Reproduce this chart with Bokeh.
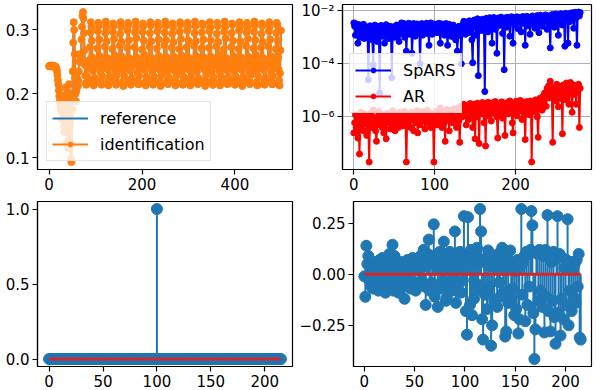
import math
from bokeh.plotting import figure
from bokeh.layouts import column, row
from bokeh.models import (Range1d, FixedTicker, CustomJSTickFormatter, Legend,
                          LegendItem, ColumnDataSource)
from bokeh.embed import file_html
from bokeh.resources import INLINE

# ---------------- data ----------------
# panel 1 (top-left): identification / reference, 500 samples
identification = [
    0.243, 0.243, 0.244, 0.243, 0.243, 0.244, 0.243, 0.243, 0.243, 0.244, 0.243, 0.243, 0.242, 0.243, 0.242, 0.241, 0.239, 0.235, 0.229, 0.221,
    0.214, 0.205, 0.196, 0.188, 0.181, 0.176, 0.190, 0.172, 0.160, 0.175, 0.195, 0.168, 0.150, 0.140, 0.165, 0.198, 0.210, 0.185, 0.150, 0.125,
    0.115, 0.140, 0.190, 0.215, 0.200, 0.155, 0.118, 0.098, 0.093, 0.120, 0.175, 0.235, 0.280, 0.312, 0.300, 0.262, 0.225, 0.200, 0.188, 0.205,
    0.225, 0.215, 0.212, 0.220, 0.235, 0.250, 0.262, 0.258, 0.250, 0.262, 0.285, 0.305, 0.322, 0.328, 0.318, 0.295, 0.268, 0.245, 0.228, 0.216,
    0.214, 0.217, 0.227, 0.241, 0.250, 0.247, 0.243, 0.253, 0.273, 0.296, 0.312, 0.305, 0.283, 0.257, 0.236, 0.221,
    0.213, 0.216, 0.225, 0.243, 0.251, 0.246, 0.244, 0.251, 0.271, 0.298, 0.311, 0.307, 0.285, 0.259, 0.235, 0.219,
    0.215, 0.214, 0.228, 0.240, 0.249, 0.248, 0.242, 0.254, 0.274, 0.295, 0.313, 0.304, 0.282, 0.256, 0.238, 0.220,
    0.213, 0.217, 0.226, 0.244, 0.252, 0.245, 0.243, 0.252, 0.270, 0.297, 0.310, 0.306, 0.286, 0.260, 0.234, 0.222,
    0.214, 0.215, 0.229, 0.242, 0.250, 0.247, 0.241, 0.253, 0.275, 0.294, 0.312, 0.305, 0.281, 0.258, 0.237, 0.219,
    0.212, 0.216, 0.227, 0.239, 0.253, 0.249, 0.244, 0.250, 0.272, 0.299, 0.311, 0.308, 0.284, 0.255, 0.236, 0.221,
    0.214, 0.218, 0.224, 0.243, 0.248, 0.246, 0.245, 0.254, 0.273, 0.296, 0.313, 0.304, 0.287, 0.257, 0.233, 0.220,
    0.215, 0.215, 0.228, 0.241, 0.251, 0.248, 0.242, 0.251, 0.269, 0.297, 0.310, 0.306, 0.283, 0.261, 0.237, 0.218,
    0.213, 0.217, 0.226, 0.245, 0.250, 0.244, 0.243, 0.255, 0.274, 0.295, 0.312, 0.307, 0.282, 0.256, 0.235, 0.222,
    0.214, 0.216, 0.227, 0.240, 0.252, 0.247, 0.246, 0.252, 0.271, 0.298, 0.311, 0.305, 0.285, 0.259, 0.238, 0.219,
    0.212, 0.214, 0.229, 0.243, 0.249, 0.249, 0.241, 0.253, 0.276, 0.296, 0.313, 0.306, 0.284, 0.257, 0.234, 0.221,
    0.215, 0.218, 0.225, 0.242, 0.251, 0.246, 0.244, 0.250, 0.272, 0.294, 0.310, 0.304, 0.281, 0.258, 0.236, 0.220,
    0.213, 0.216, 0.228, 0.244, 0.253, 0.245, 0.242, 0.254, 0.270, 0.297, 0.312, 0.308, 0.286, 0.260, 0.235, 0.218,
    0.214, 0.215, 0.226, 0.241, 0.250, 0.248, 0.243, 0.251, 0.273, 0.299, 0.311, 0.305, 0.283, 0.256, 0.237, 0.222,
    0.213, 0.217, 0.227, 0.239, 0.252, 0.247, 0.245, 0.253, 0.275, 0.295, 0.313, 0.306, 0.282, 0.259, 0.234, 0.219,
    0.215, 0.216, 0.224, 0.243, 0.248, 0.246, 0.244, 0.252, 0.271, 0.296, 0.310, 0.307, 0.285, 0.257, 0.238, 0.221,
    0.212, 0.218, 0.229, 0.242, 0.251, 0.249, 0.242, 0.254, 0.272, 0.298, 0.312, 0.304, 0.284, 0.258, 0.235, 0.220,
    0.214, 0.214, 0.226, 0.245, 0.250, 0.245, 0.246, 0.250, 0.274, 0.294, 0.311, 0.306, 0.281, 0.260, 0.236, 0.218,
    0.213, 0.217, 0.228, 0.240, 0.253, 0.248, 0.243, 0.255, 0.269, 0.297, 0.313, 0.305, 0.287, 0.256, 0.237, 0.222,
    0.215, 0.216, 0.225, 0.243, 0.249, 0.247, 0.241, 0.251, 0.273, 0.295, 0.310, 0.308, 0.283, 0.259, 0.234, 0.219,
    0.214, 0.215, 0.227, 0.241, 0.252, 0.246, 0.244, 0.253, 0.270, 0.299, 0.312, 0.305, 0.282, 0.257, 0.238, 0.221,
    0.212, 0.218, 0.226, 0.244, 0.250, 0.248, 0.245, 0.252, 0.275, 0.296, 0.311, 0.304, 0.286, 0.258, 0.235, 0.220,
    0.215, 0.216, 0.229, 0.242, 0.251, 0.245, 0.242, 0.250, 0.271, 0.297, 0.313, 0.307, 0.284, 0.261, 0.236, 0.218,
    0.213, 0.214, 0.227, 0.240, 0.253, 0.249, 0.243, 0.254, 0.272, 0.294, 0.310, 0.306, 0.281, 0.256, 0.237, 0.222,
    0.214, 0.217, 0.225, 0.243, 0.248, 0.247, 0.246, 0.251, 0.274, 0.298, 0.312, 0.305, 0.285, 0.259, 0.234, 0.219,
    0.215, 0.215, 0.228, 0.241, 0.252, 0.246, 0.244, 0.253, 0.270, 0.295, 0.311, 0.308, 0.283, 0.257, 0.238, 0.221,
    0.213, 0.232, 0.268, 0.299,
]
reference = list(identification)
x_top_left = list(range(len(identification)))

# panel 2 (top-right): errors of SpARS and AR, 281 samples
spars = [
    3.5e-3, 2.6e-3, 1.2e-3, 3.2e-3, 2e-3, 6e-4, 1.5e-3, 3e-3, 2.2e-3, 1e-3, 2.8e-3, 1.7e-3, 3.1e-3, 9e-4, 1.4e-3, 2.4e-3, 1.1e-3, 2e-3, 2.5e-5, 1.6e-3,
    2.7e-3, 1.3e-3, 2.2e-3, 8e-4, 9e-5, 1.9e-3, 2.9e-3, 1.2e-3, 2.3e-3, 7e-4, 1.8e-3, 2.6e-3, 8e-6, 1.5e-3, 2.8e-3, 1.1e-3, 2.4e-3, 1.6e-3, 6e-4, 2e-3,
    3e-3, 1.3e-3, 2.1e-3, 9e-4, 1.7e-3, 2.6e-3, 1.2e-3, 3e-5, 1.9e-3, 2.5e-3, 1e-3, 2.2e-3, 1.5e-3, 2.9e-3, 1.1e-3, 2e-3, 7e-4, 1.6e-3, 2.7e-3, 3.5e-3,
    1.4e-3, 2.4e-3, 3.3e-3, 1e-3, 2.2e-3, 3e-4, 1.8e-3, 2.9e-3, 3.4e-3, 1.3e-3, 2.6e-3, 3.1e-3, 2.5e-4, 1.7e-3, 3.3e-3, 2.3e-3, 1.1e-3, 2.8e-3, 3.2e-3, 1.5e-3,
    2.5e-3, 1.9e-3, 1e-4, 2.7e-3, 3.3e-3, 1.2e-3, 2.2e-3, 3e-3, 1.6e-3, 2.8e-3, 3.4e-3, 1.4e-3, 2.4e-3, 5e-4, 2.9e-3, 3.5e-3, 2e-3, 1.3e-3, 2.6e-3, 3.2e-3,
    1.8e-3, 2.4e-3, 3e-3, 1.5e-3, 2.7e-3, 3.4e-3, 2.1e-3, 6e-4, 2.5e-3, 3.2e-3, 1.9e-3, 2.8e-3, 1.2e-3, 2.3e-3, 3.3e-3, 1.6e-3, 5e-4, 2.6e-3, 3.1e-3, 2e-3,
    1.1e-3, 2.4e-3, 1.6e-3, 2.9e-3, 1e-3, 1.8e-3, 8e-4, 2.2e-3, 3e-4, 1.4e-3, 2.6e-3, 1.2e-3, 2e-3, 1e-4, 1.7e-3, 3e-3, 4e-3, 2.5e-3, 1.3e-3, 3.5e-3,
    3.8e-3, 2.4e-3, 1.5e-3, 4.2e-3, 3.1e-3, 2e-3, 8e-4, 1.1e-4, 3.6e-3, 4.5e-3, 2.7e-3, 1.2e-3, 3.9e-3, 5e-3, 3.6e-5, 2.8e-3, 4.4e-3, 3.2e-3, 1.8e-3, 4.8e-3,
    3.5e-3, 2.2e-3, 9e-6, 4.6e-3, 5.2e-3, 3e-3, 1.6e-3, 4.1e-3, 5.5e-3, 2.6e-3, 3.8e-3, 6e-4, 4.9e-3, 5.6e-3, 3.3e-3, 2e-3, 4.5e-3, 2.5e-4, 5.3e-3, 4e-3,
    2.8e-3, 5e-3, 5.8e-3, 3.6e-3, 1.4e-3, 4.4e-3, 6e-5, 5.4e-3, 4.1e-3, 2.4e-3, 5.7e-3, 3.2e-3, 4.8e-3, 1.1e-3, 5.2e-3, 6e-3, 3.9e-3, 6e-4, 4.6e-3, 5.5e-3,
    3e-3, 4.3e-3, 5.9e-3, 2.1e-3, 4.9e-3, 3.7e-3, 5.6e-3, 1.6e-3, 4.4e-3, 6.1e-3, 3.4e-3, 5.1e-3, 5e-4, 4.7e-3, 6.2e-3, 2.7e-3, 5.3e-3, 4e-3, 1.3e-3, 5.8e-3,
    4.6e-3, 6.4e-3, 3.1e-3, 5.2e-3, 2.2e-3, 5.9e-3, 4.2e-3, 6.6e-3, 3.5e-3, 1.5e-3, 5.5e-3, 6.8e-3, 4.8e-3, 2.6e-3, 6.1e-3, 3.8e-3, 5.7e-3, 7e-3, 4.4e-3, 2e-3,
    6.3e-3, 5e-3, 3.3e-3, 4e-4, 6.9e-3, 5.4e-3, 7.3e-3, 4.1e-3, 2.4e-3, 6.5e-3, 7.6e-3, 5.2e-3, 3.6e-3, 1.2e-3, 6.8e-3, 5.7e-3, 7.8e-3, 4.5e-3, 2.9e-3, 7.1e-3,
    6e-3, 4.6e-4, 8e-3, 5.1e-3, 6.6e-3, 6e-4, 7.5e-3, 3.9e-3, 8.2e-3, 6.1e-3, 4.8e-3, 8.5e-3, 2.2e-3, 7e-3, 8.8e-3, 5.5e-3, 5e-4, 7.9e-3, 9e-3, 6.4e-3,
    8.6e-3,
]
ar = [
    2.5e-7, 6e-7, 1.2e-6, 4e-7, 1e-6, 1.6e-7, 7e-7, 4e-8, 9e-7, 1.5e-6, 5e-7, 1.1e-6, 3e-7, 8e-7, 1.3e-6, 6e-7, 2e-7, 1e-6, 5e-7, 2e-8,
    8e-7, 1.4e-6, 4e-7, 1e-6, 1.8e-6, 6e-7, 9e-7, 3e-7, 1.2e-7, 7e-7, 1.1e-6, 1.6e-6, 5e-7, 9e-7, 1.3e-6, 4e-7, 1e-6, 2.5e-7, 7e-7, 1.2e-6,
    1.5e-7, 8e-7, 1.4e-6, 6e-7, 1e-6, 3.5e-7, 1.2e-6, 8e-7, 1.7e-6, 5e-7, 1e-6, 3e-7, 7e-7, 1.3e-6, 9e-7, 4e-7, 1.1e-6, 1.5e-6, 6e-7, 1e-6,
    4.5e-7, 1.2e-6, 8e-7, 1.6e-6, 5e-7, 2e-8, 9e-7, 1.3e-6, 7e-7, 1.1e-6, 4e-7, 1.5e-6, 8e-7, 1.2e-6, 3e-7, 1e-6, 1.4e-6, 6e-7, 1.7e-6, 2.5e-7,
    9e-7, 1.3e-6, 5e-7, 1.1e-6, 1.6e-6, 7e-7, 1e-6, 1.4e-6, 3.5e-7, 8e-7, 1.2e-6, 1.8e-6, 6e-7, 1e-6, 1.4e-6, 4e-7, 9e-7, 1.3e-6, 7e-7, 2e-8,
    8e-7, 1.2e-6, 1.6e-6, 5e-7, 1e-6, 1.4e-6, 7e-7, 2.2e-6, 1.1e-6, 4e-7, 9e-7, 1.5e-6, 6e-7, 1.2e-7, 1.3e-6, 1.9e-6, 8e-7, 1.1e-6, 3e-7, 1.5e-6,
    1e-6, 1.8e-6, 6e-7, 1.3e-6, 2e-6, 9e-7, 1.5e-6, 4e-7, 1.2e-6, 2.2e-6, 7e-7, 1.1e-7, 1.6e-6, 2.5e-6, 1e-6, 1.9e-6, 3e-6, 1.3e-6, 2.4e-6, 5e-7,
    1.6e-6, 2.8e-6, 8e-7, 2e-6, 3.2e-6, 1.2e-6, 2.5e-6, 4e-7, 1.8e-6, 3e-6, 1.5e-7, 2.2e-6, 1e-6, 3.3e-6, 2.6e-6, 1e-7, 1.7e-6, 2.9e-6, 1.3e-6, 3.5e-6,
    2.1e-6, 6e-7, 3e-6, 8e-8, 1.5e-6, 2.7e-6, 3.6e-6, 1.1e-6, 2.3e-6, 3.1e-6, 7e-7, 2e-6, 3.4e-6, 1.4e-6, 2.6e-6, 3.8e-6, 1.8e-6, 1e-6, 1.6e-7, 2.9e-6,
    3.3e-6, 1.2e-6, 2.4e-6, 3.7e-6, 9e-7, 2e-6, 3e-6, 2e-7, 1.6e-6, 2.8e-6, 3.5e-6, 1.3e-6, 2.2e-6, 4e-6, 1.8e-6, 2.6e-6, 6e-7, 2.5e-7, 3.2e-6, 1.5e-6,
    2.7e-6, 3.9e-6, 1.1e-6, 2.3e-6, 3.4e-6, 1.7e-6, 4.2e-6, 2.9e-6, 8e-7, 2.1e-6, 3.6e-6, 1.4e-6, 1.4e-7, 2.5e-6, 3.8e-6, 1.9e-6, 3.1e-6, 1.2e-6, 2.7e-6, 4e-6,
    2e-8, 2.2e-6, 3.5e-6, 1.6e-6, 2.9e-6, 4.4e-6, 2.3e-6, 1e-6, 1.7e-7, 3.3e-6, 5e-6, 2.6e-6, 4.1e-6, 1.8e-6, 6e-6, 3.6e-6, 8e-6, 4.8e-6, 2.5e-6, 1.2e-5,
    7e-6, 1.5e-5, 5.2e-6, 2.2e-5, 1e-5, 6e-6, 1.1e-7, 1.3e-5, 8e-6, 4e-6, 1.1e-5, 1.7e-5, 6.5e-6, 2.4e-6, 1.2e-5, 9e-6, 5e-6, 1.4e-5, 2.3e-7, 1.6e-5,
    1e-5, 4.5e-6, 1.3e-5, 1.9e-5, 6e-6, 1.1e-5, 3e-6, 1.5e-5, 2e-5, 8.5e-6, 1.5e-6, 1.2e-5, 1.6e-5, 7e-6, 1.3e-5, 3e-6, 1.4e-5, 1.1e-5, 1.7e-5, 4e-7,
    1.2e-5,
]
x_top_right = list(range(len(spars)))

# panel 3 (bottom-left): impulse, 216 samples
impulse = [
    0, 0, 0, 0, 0, 0, 0, 0, 0, 0, 0, 0, 0, 0, 0, 0, 0, 0, 0, 0, 0, 0, 0, 0,
    0, 0, 0, 0, 0, 0, 0, 0, 0, 0, 0, 0, 0, 0, 0, 0, 0, 0, 0, 0, 0, 0, 0, 0,
    0, 0, 0, 0, 0, 0, 0, 0, 0, 0, 0, 0, 0, 0, 0, 0, 0, 0, 0, 0, 0, 0, 0, 0,
    0, 0, 0, 0, 0, 0, 0, 0, 0, 0, 0, 0, 0, 0, 0, 0, 0, 0, 0, 0, 0, 0, 0, 0,
    0, 0, 0, 0, 1, 0, 0, 0, 0, 0, 0, 0, 0, 0, 0, 0, 0, 0, 0, 0, 0, 0, 0, 0,
    0, 0, 0, 0, 0, 0, 0, 0, 0, 0, 0, 0, 0, 0, 0, 0, 0, 0, 0, 0, 0, 0, 0, 0,
    0, 0, 0, 0, 0, 0, 0, 0, 0, 0, 0, 0, 0, 0, 0, 0, 0, 0, 0, 0, 0, 0, 0, 0,
    0, 0, 0, 0, 0, 0, 0, 0, 0, 0, 0, 0, 0, 0, 0, 0, 0, 0, 0, 0, 0, 0, 0, 0,
    0, 0, 0, 0, 0, 0, 0, 0, 0, 0, 0, 0, 0, 0, 0, 0, 0, 0, 0, 0, 0, 0, 0, 0,
]
x_bottom_left = list(range(len(impulse)))

# panel 4 (bottom-right): estimated coefficients, 216 samples
coeffs = [
    -0.01, -0.11, 0.14, 0.05, 0.09, -0.03, 0.02, -0.06, 0.04, -0.07, 0.01, 0.06,
    -0.04, 0.03, -0.08, 0.07, 0.00, -0.05, 0.08, -0.02, 0.05, -0.09, 0.02, 0.06,
    -0.06, 0.10, -0.03, 0.04, 0.145, -0.08, 0.09, -0.04, 0.07, 0.01, -0.09, 0.05,
    -0.02, 0.06, -0.06, 0.03, -0.12, 0.04, -0.05, 0.07, -0.02, 0.02, -0.07, 0.05,
    0.08, -0.04, 0.06, -0.08, 0.03, 0.07, -0.05, 0.02, 0.09, -0.03, 0.05, 0.12,
    -0.06, -0.15, 0.04, 0.10, 0.17, -0.08, 0.06, -0.04, 0.09, 0.245, -0.11, 0.05,
    0.08, -0.16, 0.03, 0.11, -0.07, 0.10, -0.03, 0.16, 0.06, -0.13, -0.114, 0.09,
    -0.05, 0.11, 0.02, -0.08, 0.07, -0.02, 0.21, -0.14, 0.10, -0.06, 0.04, 0.11,
    -0.09, 0.06, -0.03, 0.285, 0.02, -0.18, -0.296, 0.28, 0.10, -0.15, 0.12, -0.20,
    0.05, -0.12, 0.09, -0.08, 0.13, -0.05, 0.07, 0.32, 0.21, -0.22, -0.32, 0.06,
    -0.10, 0.08, -0.17, 0.117, -0.06, 0.04, -0.35, -0.25, 0.09, -0.13, 0.03, 0.07,
    -0.16, 0.10, -0.04, -0.11, 0.06, 0.13, -0.09, 0.02, -0.305, -0.28, 0.08, -0.14,
    0.05, 0.117, -0.12, -0.07, 0.03, -0.20, 0.016, -0.17, 0.07, -0.29, -0.22, 0.04,
    0.32, -0.10, 0.06, 0.09, -0.23, 0.11, -0.15, 0.10, -0.06, 0.12, 0.31, 0.24,
    -0.19, -0.415, -0.27, 0.11, 0.10, -0.13, 0.12, -0.08, 0.11, -0.16, 0.09, -0.285,
    0.12, -0.11, 0.29, -0.18, 0.10, -0.28, 0.06, -0.13, 0.11, -0.21, -0.34, 0.08,
    0.285, -0.19, 0.10, -0.30, -0.12, 0.08, -0.22, 0.03, -0.15, 0.07, 0.27, -0.25,
    -0.08, 0.06, -0.18, 0.02, -0.11, 0.05, -0.14, 0.07, -0.06, 0.10, -0.31, -0.32,
]
x_bottom_right = list(range(len(coeffs)))

# tick positions
ticks_x_tl = [0, 200, 400]
ticks_y_tl = [0.1, 0.2, 0.3]
ticks_x_tr = [0, 100, 200]
ticks_y_tr = [1e-6, 1e-4, 1e-2]
ticks_x_b = [0, 50, 100, 150, 200]
ticks_y_bl = [0.0, 0.5, 1.0]
ticks_y_br = [-0.25, 0.0, 0.25]

# ---------------- styling helpers ----------------
FONT = "DejaVu Sans"
C0 = "#1f77b4"
C1 = "#ff7f0e"
C3 = "#d62728"


def padded(lo, hi, frac=0.05):
    span = hi - lo
    return lo - frac * span, hi + frac * span


def style(p, xticks, yticks):
    p.outline_line_color = "black"
    p.outline_line_width = 1.2
    p.outline_line_alpha = 1.0
    p.background_fill_color = "white"
    p.border_fill_color = "white"
    p.xgrid.visible = False
    p.ygrid.visible = False
    for ax in (p.xaxis[0], p.yaxis[0]):
        ax.major_label_text_font = FONT
        ax.major_label_text_font_size = "15px"
        ax.major_label_text_color = "black"
        ax.axis_line_color = "black"
        ax.axis_line_width = 1.2
        ax.major_tick_line_color = "black"
        ax.major_tick_line_width = 1.2
        ax.major_tick_out = 5
        ax.major_tick_in = 0
        ax.minor_tick_line_color = None
        ax.major_label_standoff = 3
    p.xaxis[0].ticker = FixedTicker(ticks=xticks)
    p.yaxis[0].ticker = FixedTicker(ticks=yticks)


def make_legend(items, loc):
    lg = Legend(items=items, location=loc)
    lg.label_text_font = FONT
    lg.label_text_font_size = "16px"
    lg.label_text_color = "black"
    lg.glyph_width = 36
    lg.glyph_height = 12
    lg.label_height = 22
    lg.label_standoff = 12
    lg.spacing = 4
    lg.padding = 5
    lg.margin = 0
    lg.border_line_color = "#cccccc"
    lg.border_line_width = 1
    lg.background_fill_color = "white"
    lg.background_fill_alpha = 0.8
    return lg


# ---------------- panel 1 ----------------
ylo, yhi = padded(min(identification + reference), max(identification + reference))
xlo, xhi = padded(x_top_left[0], x_top_left[-1])
p1 = figure(width=296, height=196, output_backend="svg", toolbar_location=None,
            x_range=Range1d(xlo, xhi), y_range=Range1d(ylo, yhi),
            min_border_left=37, min_border_right=4, min_border_top=4, min_border_bottom=27)
style(p1, ticks_x_tl, ticks_y_tl)
r_ref = p1.line(x_top_left, reference, line_color=C0, line_width=2)
r_id_l = p1.line(x_top_left, identification, line_color=C1, line_width=2)
r_id_m = p1.scatter(x_top_left, identification, size=7, fill_color=C1, line_color=C1)
p1.add_layout(make_legend([LegendItem(label="reference", renderers=[r_ref]),
                           LegendItem(label="identification", renderers=[r_id_l, r_id_m])],
                          (9, 8)))

# ---------------- panel 2 ----------------
allv = spars + ar
l0, l1 = padded(math.log10(min(allv)), math.log10(max(allv)))
xlo2, xhi2 = padded(x_top_right[0], x_top_right[-1])
p2 = figure(width=299, height=196, output_backend="svg", toolbar_location=None,
            y_axis_type="log",
            x_range=Range1d(xlo2, xhi2), y_range=Range1d(10 ** l0, 10 ** l1),
            min_border_left=46, min_border_right=4, min_border_top=4, min_border_bottom=27)
style(p2, ticks_x_tr, ticks_y_tr)
p2.yaxis[0].formatter = CustomJSTickFormatter(code="""
const e = Math.round(Math.log10(tick));
const sup = {'-':'\\u207b','0':'\\u2070','1':'\\u00b9','2':'\\u00b2','3':'\\u00b3','4':'\\u2074',
             '5':'\\u2075','6':'\\u2076','7':'\\u2077','8':'\\u2078','9':'\\u2079'};
return '10' + String(e).split('').map(c => sup[c]).join('');
""")
p2.xgrid.visible = True
p2.ygrid.visible = True
p2.xgrid.grid_line_color = "#b0b0b0"
p2.ygrid.grid_line_color = "#b0b0b0"
p2.xgrid.grid_line_width = 1
p2.ygrid.grid_line_width = 1
p2.ygrid.ticker = FixedTicker(ticks=ticks_y_tr)
p2.xgrid.ticker = FixedTicker(ticks=ticks_x_tr)
s_l = p2.line(x_top_right, spars, line_color="blue", line_width=2)
s_m = p2.scatter(x_top_right, spars, size=6, fill_color="blue", line_color="blue")
a_l = p2.line(x_top_right, ar, line_color="red", line_width=2)
a_m = p2.scatter(x_top_right, ar, size=6, fill_color="red", line_color="red")
p2.add_layout(make_legend([LegendItem(label="SpARS", renderers=[s_l, s_m]),
                           LegendItem(label="AR", renderers=[a_l, a_m])],
                          (7, 56)))


# ---------------- stem helper ----------------
def stem(p, xs, vs):
    src = ColumnDataSource(dict(x=xs, v=vs))
    p.segment(x0="x", y0=0, x1="x", y1="v", source=src, line_color=C0, line_width=2)
    p.scatter("x", "v", source=src, size=11, fill_color=C0, line_color=C0)
    p.line([xs[0], xs[-1]], [0, 0], line_color=C3, line_width=3)


# ---------------- panel 3 ----------------
xlo3, xhi3 = padded(x_bottom_left[0], x_bottom_left[-1])
ylo3, yhi3 = padded(min(impulse), max(impulse))
p3 = figure(width=296, height=193, output_backend="svg", toolbar_location=None,
            x_range=Range1d(xlo3, xhi3), y_range=Range1d(ylo3, yhi3),
            min_border_left=37, min_border_right=4, min_border_top=5, min_border_bottom=23)
style(p3, ticks_x_b, ticks_y_bl)
p3.yaxis[0].formatter = CustomJSTickFormatter(code="return tick.toFixed(1);")
stem(p3, x_bottom_left, impulse)

# ---------------- panel 4 ----------------
xlo4, xhi4 = padded(x_bottom_right[0], x_bottom_right[-1])
ylo4, yhi4 = padded(min(coeffs), max(coeffs))
p4 = figure(width=299, height=193, output_backend="svg", toolbar_location=None,
            x_range=Range1d(xlo4, xhi4), y_range=Range1d(ylo4, yhi4),
            min_border_left=46, min_border_right=4, min_border_top=5, min_border_bottom=23)
style(p4, ticks_x_b, ticks_y_br)
p4.yaxis[0].formatter = CustomJSTickFormatter(
    code="return (tick < 0 ? '\\u2212' : '') + Math.abs(tick).toFixed(2);")
stem(p4, x_bottom_right, coeffs)

layout = column(row(p1, p2), row(p3, p4))
open("out.html", "w").write(file_html(layout, INLINE))
